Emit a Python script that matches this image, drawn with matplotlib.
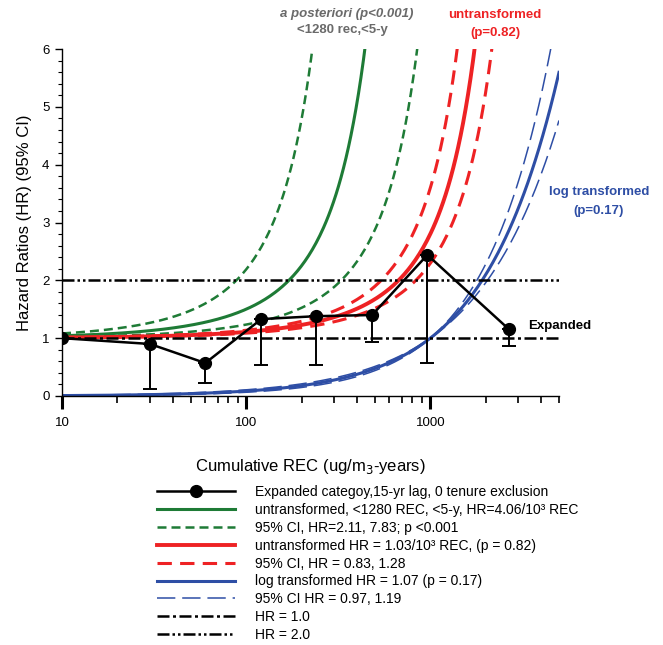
import numpy as np
import matplotlib
matplotlib.use("Agg")
import matplotlib.pyplot as plt
from matplotlib.ticker import FixedLocator, NullFormatter

plt.rcParams['font.family'] = ['Liberation Sans', 'DejaVu Sans']

# Expanded category points (cumulative REC, HR, lower 95% CI)
rec = [10, 30, 60, 121, 240, 483, 964, 2660]
hr = [1.0, 0.90, 0.57, 1.33, 1.38, 1.40, 2.44, 1.16]
hr_low = [1.0, 0.12, 0.23, 0.54, 0.54, 0.93, 0.57, 0.87]

# model coefficients (per 10^3 REC, untransformed; exponent for log transformed)
green_hr, green_lo, green_hi = 4.06, 2.11, 7.83
red_hr, red_lo, red_hi = 1.03, 0.83, 1.28
blue_hr, blue_lo, blue_hi = 1.07, 0.97, 1.19

labels = [
    "Expanded categoy,15-yr lag, 0 tenure exclusion",
    "untransformed, <1280 REC, <5-y, HR=4.06/10³ REC",
    "95% CI, HR=2.11, 7.83; p <0.001",
    "untransformed HR = 1.03/10³ REC, (p = 0.82)",
    "95% CI, HR = 0.83, 1.28",
    "log transformed HR = 1.07 (p = 0.17)",
    "95% CI HR = 0.97, 1.19",
    "HR = 1.0",
    "HR = 2.0",
]

GREEN = '#1e7b36'
RED = '#ee2224'
BLUE = '#2e4ea5'
GREY = '#6a6a6a'

fig = plt.figure(figsize=(6.63, 6.45), dpi=100)
ax = fig.add_axes([62/663, 1 - 396/645, (559-62)/663, (396-49)/645])

xs = np.geomspace(10, 5000, 400)

def untr(b):
    return np.exp(b * xs / 1000.0)

def logt(b):
    return (xs / 1000.0) ** b

l_g, = ax.plot(xs, untr(green_hr), color=GREEN, lw=2.2)
l_gd, = ax.plot(xs, untr(green_lo), color=GREEN, lw=1.8, ls=(0, (3.6, 2.0)))
ax.plot(xs, untr(green_hi), color=GREEN, lw=1.8, ls=(0, (3.6, 2.0)))

l_r, = ax.plot(xs, untr(red_hr), color=RED, lw=2.8)
l_rd, = ax.plot(xs, untr(red_lo), color=RED, lw=2.2, ls=(0, (4.7, 2.7)))
ax.plot(xs, untr(red_hi), color=RED, lw=2.2, ls=(0, (4.7, 2.7)))

l_b, = ax.plot(xs, logt(blue_hr), color=BLUE, lw=2.2)
l_bd, = ax.plot(xs, logt(blue_lo), color=BLUE, lw=1.1, ls=(0, (12, 4.5)))
ax.plot(xs, logt(blue_hi), color=BLUE, lw=1.1, ls=(0, (12, 4.5)))

l_h1 = ax.axhline(1.0, color='black', lw=1.8, ls=(0, (4.8, 1.4, 1.2, 1.4)))
l_h2 = ax.axhline(2.0, color='black', lw=1.8, ls=(0, (4.8, 1.2, 1.0, 1.2, 1.0, 1.2)))

lower = np.array(hr) - np.array(hr_low)
eb = ax.errorbar(rec, hr, yerr=[lower, np.zeros(len(hr))], fmt='-o', color='black',
                 lw=1.8, ms=8.5, elinewidth=1.4, capsize=4.7, capthick=1.4, zorder=5)

ax.set_xscale('log')
ax.set_xlim(10, 5000)
ax.set_ylim(0, 6)

for s in ['top', 'right']:
    ax.spines[s].set_visible(False)
ax.spines['left'].set_linewidth(1.0)
ax.spines['bottom'].set_linewidth(1.0)

ax.xaxis.set_major_locator(FixedLocator([10, 100, 1000]))
ax.set_xticklabels(['10', '100', '1000'])
minor = [v * d for d in (10, 100, 1000) for v in range(2, 10) if v * d <= 5000]
ax.xaxis.set_minor_locator(FixedLocator(minor))
ax.xaxis.set_minor_formatter(NullFormatter())
ax.tick_params(axis='x', which='major', length=9, width=2.2, labelsize=9.5, pad=6)
ax.tick_params(axis='x', which='minor', length=5, width=1.2)

ax.set_yticks([0, 1, 2, 3, 4, 5, 6])
ax.yaxis.set_minor_locator(FixedLocator(np.arange(0, 6.01, 0.2)))
ax.tick_params(axis='y', which='major', length=5, width=1.0, labelsize=9.5, pad=4)
ax.tick_params(axis='y', which='minor', length=3, width=0.8)

ax.set_ylabel('Hazard Ratios (HR) (95% CI)', fontsize=12, labelpad=7)
ax.set_xlabel('Cumulative REC (ug/m$_3$-years)', fontsize=12, labelpad=20)

# annotations
fig.text(347/663, 1 - 14/645, 'a posteriori (p<0.001)', color=GREY, fontsize=9.5,
         fontweight='bold', style='italic', ha='center', va='center')
fig.text(342/663, 1 - 30/645, '<1280 rec,<5-y', color=GREY, fontsize=9.5,
         fontweight='bold', ha='center', va='center')
fig.text(495/663, 1 - 15/645, 'untransformed', color=RED, fontsize=9.5,
         fontweight='bold', ha='center', va='center')
fig.text(495/663, 1 - 33/645, '(p=0.82)', color=RED, fontsize=9.5,
         fontweight='bold', ha='center', va='center')
fig.text(599/663, 1 - 192/645, 'log transformed', color=BLUE, fontsize=9.5,
         fontweight='bold', ha='center', va='center')
fig.text(599/663, 1 - 211/645, '(p=0.17)', color=BLUE, fontsize=9.5,
         fontweight='bold', ha='center', va='center')
fig.text(528/663, 1 - 326/645, 'Expanded', color='black', fontsize=9.5,
         fontweight='bold', ha='left', va='center')

handles = [eb.lines[0], l_g, l_gd, l_r, l_rd, l_b, l_bd, l_h1, l_h2]
fig.legend(handles, labels, loc='upper left', bbox_to_anchor=(157/663, 1 - 485/645),
           frameon=False, fontsize=10, handlelength=5.6, handletextpad=1.45,
           labelspacing=0.28, borderpad=0, borderaxespad=0, numpoints=1)

fig.savefig('out.png', dpi=100)
